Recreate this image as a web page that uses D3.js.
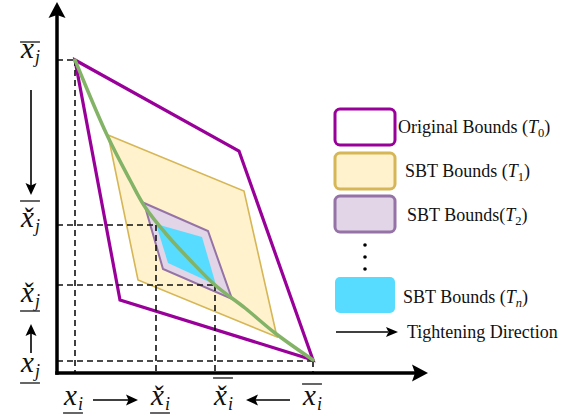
<!DOCTYPE html>
<html><head><meta charset="utf-8">
<script src="https://cdn.jsdelivr.net/npm/d3@7"></script>
<style>body{margin:0;background:#fff} svg{display:block}</style>
</head><body>
<svg id="c" width="574" height="417"></svg>
<script>
// ---------------- data (diagram units, origin = axes corner) ----------------
const boundT0 = [[18,313],[182,222],[256,13],[63,73]];
const boundT1 = [[51,238],[187,182],[220,36],[81,93]];
const boundT2 = [[87,170],[151,142],[175,74],[106,104]];
const boundTn = [[99,149],[145,136],[159,88],[111,110]];
const pathPoints = [[18,313],[50,238],[73,193],[88,166],[110,138],[133,113],[158,88],[188,65],[218,40],[256,13]];
const guidePoints = [[18,313],[99,148],[158,88],[256,12]];

// axis labels: [centerX, baselineY, accent, subscript, mark, markY]
const yTickLabels = [
  [-27, 315, "",  "j", "over",  331],
  [-27, 146, "\u030C", "j", "over", 172],
  [-27, 71,  "\u030C", "j", "under", 62],
  [-27, 1,   "",  "j", "under", -10]
];
const xTickLabels = [
  [16, -32,  "",  "i", "under", -40],
  [103, -32, "\u030C", "i", "under", -40],
  [166, -32, "\u030C", "i", "over", -5],
  [255, -32, "",  "i", "over", -11]
];
const labelArrows = [[-26,283,-26,178],[-26,20,-26,49],[36,-27,81,-27],[233,-27,189,-27]];

const legendNames = [["Original Bounds (","0"],["SBT Bounds (","1"],["SBT Bounds(","2"],["SBT Bounds (","n"]];
const legendArrowName = "Tightening Direction";

// ---------------- styles ----------------
const PURPLE = "#990099", YEL_S = "#d6b656", YEL_F = "#fff2cc",
      LAV_S = "#9673a6", LAV_F = "#e1d5e7", CYAN = "#57dcff", GREEN = "#82b366";

const svg = d3.select("#c");
const x = d3.scaleLinear().domain([0,371]).range([57,428]);
const y = d3.scaleLinear().domain([0,371]).range([373,2]);

function headPath(tx, ty, ang, len, hw, notch){
  const c = Math.cos(ang), s = Math.sin(ang);
  const pt = (a,b)=>[tx + a*c - b*s, ty + a*s + b*c];
  const p = [pt(0,0), pt(-len,-hw), pt(-len+notch,0), pt(-len,hw)];
  return "M"+p.map(d=>d.join(",")).join("L")+"Z";
}

// polygons
const poly = d3.line().x(d=>x(d[0])).y(d=>y(d[1]));
svg.append("path").attr("d", poly(boundT1)+"Z").attr("fill",YEL_F).attr("stroke",YEL_S).attr("stroke-width",1.6);
svg.append("path").attr("d", poly(boundT2)+"Z").attr("fill",LAV_F).attr("stroke",LAV_S).attr("stroke-width",2);
svg.append("path").attr("d", poly(boundTn)+"Z").attr("fill",CYAN).attr("stroke","none");
svg.append("path").attr("d", poly(boundT0)+"Z").attr("fill","none").attr("stroke",PURPLE).attr("stroke-width",3.2);

// guides
const gG = svg.append("g").attr("stroke","#111").attr("stroke-width",1.6).attr("stroke-dasharray","6,4");
guidePoints.forEach(p=>{
  gG.append("line").attr("x1",x(0)).attr("x2",x(p[0])).attr("y1",y(p[1])).attr("y2",y(p[1]));
  gG.append("line").attr("x1",x(p[0])).attr("x2",x(p[0])).attr("y1",y(p[1])).attr("y2",y(0));
});

// green trajectory
svg.append("path").attr("d", d3.line().x(d=>x(d[0])).y(d=>y(d[1])).curve(d3.curveCatmullRom)(pathPoints))
  .attr("fill","none").attr("stroke",GREEN).attr("stroke-width",3.5).attr("stroke-linecap","round");

// axes
svg.append("line").attr("x1",x(0)).attr("y1",y(0)+1.75).attr("x2",x(0)).attr("y2",y(371)+13).attr("stroke","#000").attr("stroke-width",3.5);
svg.append("path").attr("d",headPath(x(0),y(371),-Math.PI/2,16,8.5,3)).attr("fill","#000");
svg.append("line").attr("x1",x(0)-1.75).attr("y1",y(0)).attr("x2",x(371)-13).attr("y2",y(0)).attr("stroke","#000").attr("stroke-width",3.5);
svg.append("path").attr("d",headPath(x(371),y(0),0,16,8.5,3)).attr("fill","#000");

// math labels
function mathLabel(d){
  const [cx, by, acc, sub, mark, my] = d;
  const t = svg.append("text").attr("y",y(by)).attr("font-family","'Liberation Serif', serif").attr("font-style","italic").attr("font-size",29).attr("fill","#111");
  t.append("tspan").text("x"+acc);
  t.append("tspan").attr("font-size",18).attr("dy",5).attr("dx",1).text(sub);
  const w = t.node().getComputedTextLength();
  t.attr("x", x(cx)-w/2);
  svg.append("line").attr("x1",x(cx)-w/2-1).attr("x2",x(cx)+w/2+1).attr("y1",y(my)).attr("y2",y(my))
    .attr("stroke","#333").attr("stroke-width",1.5);
}
yTickLabels.forEach(mathLabel);
xTickLabels.forEach(mathLabel);

// label arrows
labelArrows.forEach(a=>{
  const x1=x(a[0]), y1=y(a[1]), x2=x(a[2]), y2=y(a[3]);
  const ang = Math.atan2(y2-y1, x2-x1);
  svg.append("line").attr("x1",x1).attr("y1",y1).attr("x2",x2-Math.cos(ang)*8).attr("y2",y2-Math.sin(ang)*8)
    .attr("stroke","#000").attr("stroke-width",1.6);
  svg.append("path").attr("d",headPath(x2,y2,ang,12,5.5,2.5)).attr("fill","#000");
});

// legend
const lg = svg.append("g");
const boxes = [
  {y:109, fill:"#fff", stroke:PURPLE},
  {y:153, fill:YEL_F, stroke:YEL_S},
  {y:196, fill:LAV_F, stroke:LAV_S},
  {y:277, fill:CYAN, stroke:"none"}
];
const textPos = [[398,133],[405,177],[407,221],[403,303]];
boxes.forEach((b,i)=>{
  lg.append("rect").attr("x",335).attr("y",b.y).attr("width",60).attr("height",36).attr("rx",5)
    .attr("fill",b.fill).attr("stroke",b.stroke).attr("stroke-width",3);
  const t = lg.append("text").attr("x",textPos[i][0]).attr("y",textPos[i][1])
    .attr("font-family","'Liberation Serif', serif").attr("font-size",18).attr("fill","#111");
  t.append("tspan").text(legendNames[i][0]);
  t.append("tspan").attr("font-style","italic").text("T");
  t.append("tspan").attr("font-size",12.5).attr("dy",4).attr("font-style", legendNames[i][1]==="n"?"italic":"normal").text(legendNames[i][1]);
  t.append("tspan").attr("dy",-4).text(")");
});
[245,257,269].forEach(v=>lg.append("circle").attr("cx",365).attr("cy",v).attr("r",1.8).attr("fill","#000"));
lg.append("line").attr("x1",336).attr("x2",388).attr("y1",332).attr("y2",332).attr("stroke","#000").attr("stroke-width",1.6);
lg.append("path").attr("d",headPath(398,332,0,12,5,2.5)).attr("fill","#000");
lg.append("text").attr("x",407).attr("y",338).attr("font-family","'Liberation Serif', serif").attr("font-size",18).attr("fill","#111").text(legendArrowName);
</script>
</body></html>
